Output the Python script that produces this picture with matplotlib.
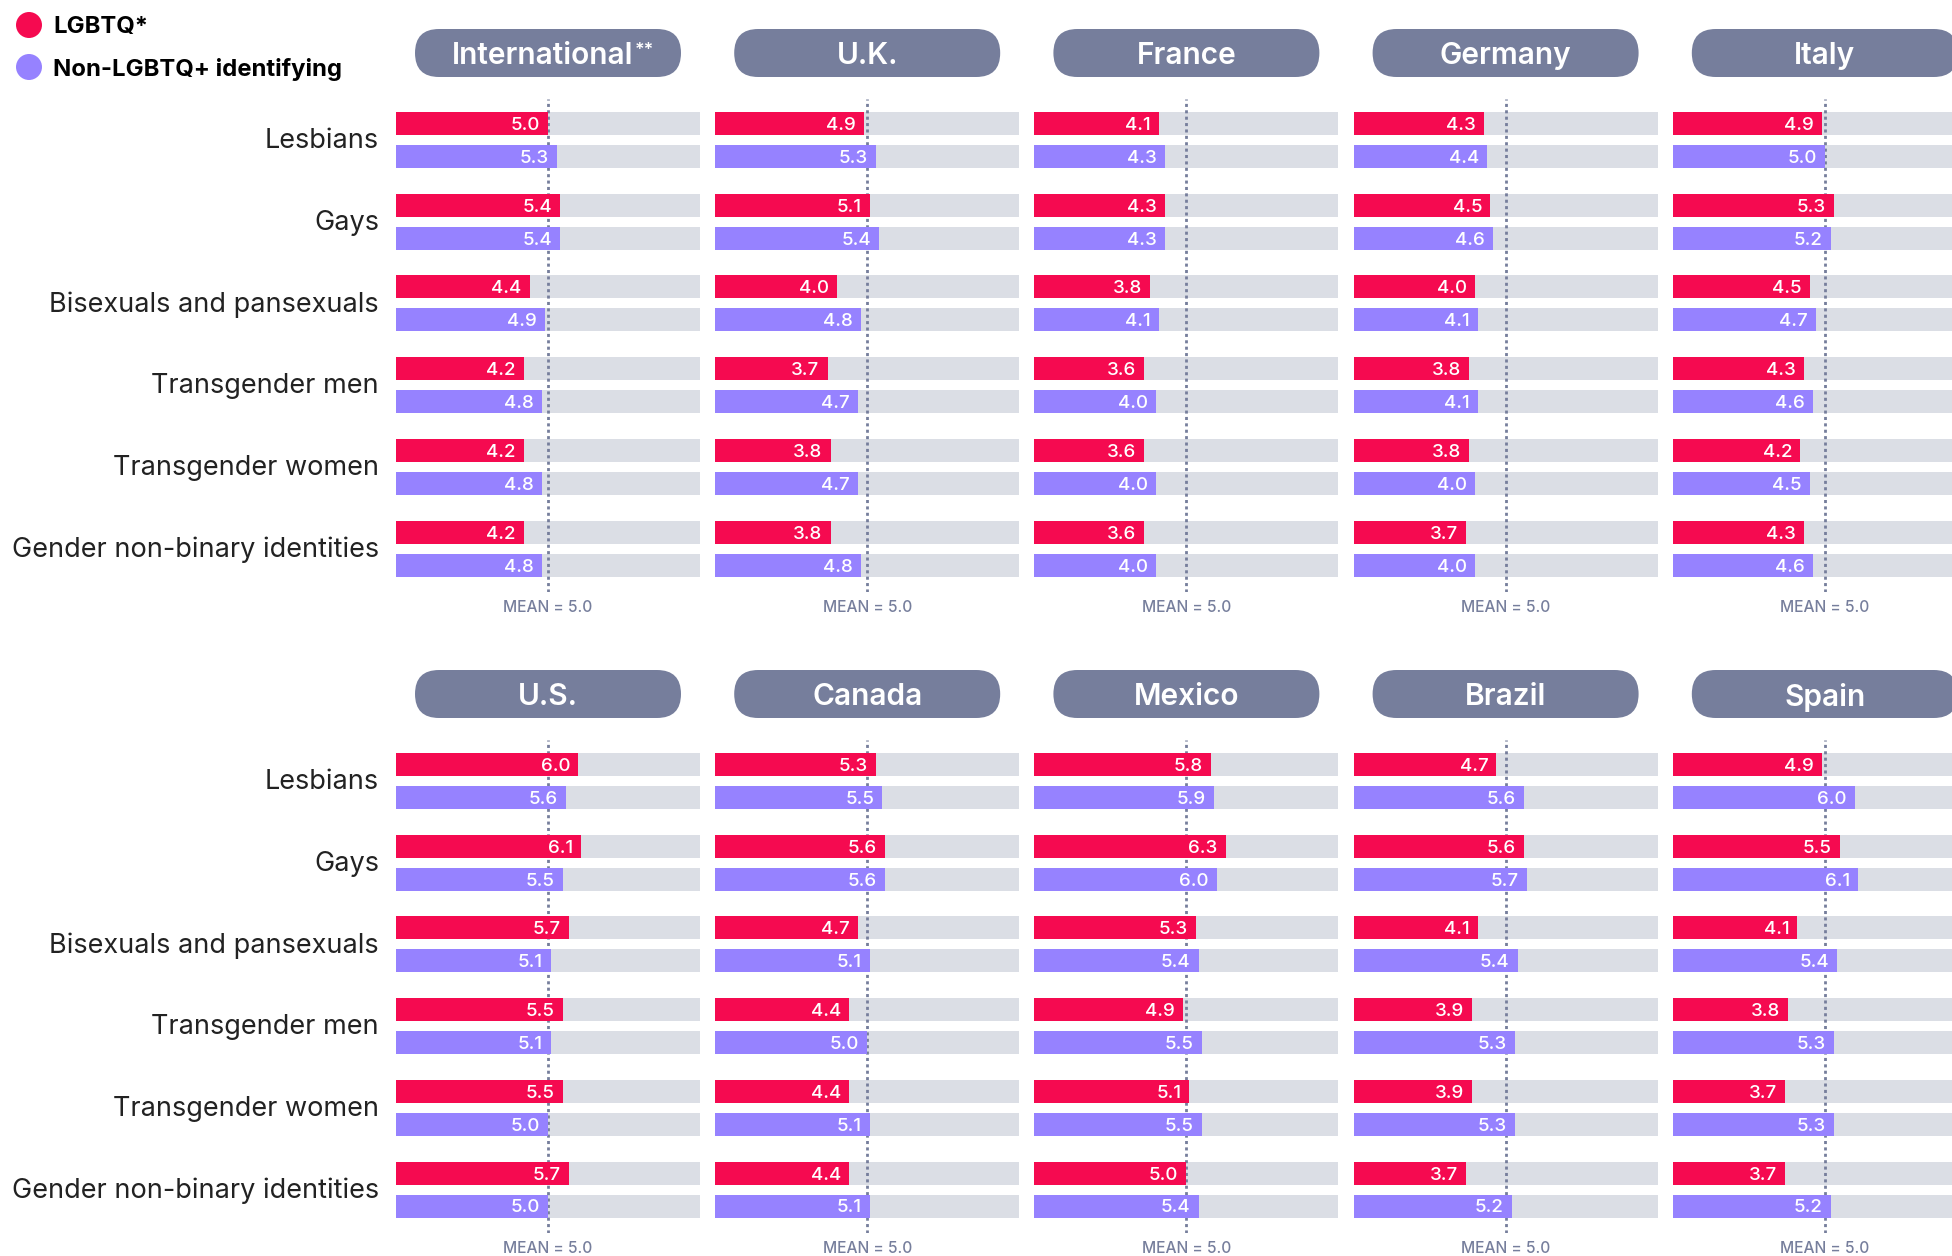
import numpy as np
import matplotlib
matplotlib.use("Agg")
import matplotlib.pyplot as plt
from matplotlib.patches import FancyBboxPatch, Circle
from matplotlib.text import Annotation

plt.rcParams['font.family'] = ['Inter', 'DejaVu Sans']

categories = ["Lesbians", "Gays", "Bisexuals and pansexuals", "Transgender men",
              "Transgender women", "Gender non-binary identities"]

top_regions = ["International", "U.K.", "France", "Germany", "Italy"]
bottom_regions = ["U.S.", "Canada", "Mexico", "Brazil", "Spain"]

# LGBTQ* scores per region (same order as categories)
lgbtq = {
    "International": [5.0, 5.4, 4.4, 4.2, 4.2, 4.2],
    "U.K.":          [4.9, 5.1, 4.0, 3.7, 3.8, 3.8],
    "France":        [4.1, 4.3, 3.8, 3.6, 3.6, 3.6],
    "Germany":       [4.3, 4.5, 4.0, 3.8, 3.8, 3.7],
    "Italy":         [4.9, 5.3, 4.5, 4.3, 4.2, 4.3],
    "U.S.":          [6.0, 6.1, 5.7, 5.5, 5.5, 5.7],
    "Canada":        [5.3, 5.6, 4.7, 4.4, 4.4, 4.4],
    "Mexico":        [5.8, 6.3, 5.3, 4.9, 5.1, 5.0],
    "Brazil":        [4.7, 5.6, 4.1, 3.9, 3.9, 3.7],
    "Spain":         [4.9, 5.5, 4.1, 3.8, 3.7, 3.7],
}

# Non-LGBTQ+ identifying scores
non_lgbtq = {
    "International": [5.3, 5.4, 4.9, 4.8, 4.8, 4.8],
    "U.K.":          [5.3, 5.4, 4.8, 4.7, 4.7, 4.8],
    "France":        [4.3, 4.3, 4.1, 4.0, 4.0, 4.0],
    "Germany":       [4.4, 4.6, 4.1, 4.1, 4.0, 4.0],
    "Italy":         [5.0, 5.2, 4.7, 4.6, 4.5, 4.6],
    "U.S.":          [5.6, 5.5, 5.1, 5.1, 5.0, 5.0],
    "Canada":        [5.5, 5.6, 5.1, 5.0, 5.1, 5.1],
    "Mexico":        [5.9, 6.0, 5.4, 5.5, 5.5, 5.4],
    "Brazil":        [5.6, 5.7, 5.4, 5.3, 5.3, 5.2],
    "Spain":         [6.0, 6.1, 5.4, 5.3, 5.3, 5.2],
}

MEAN = 5.0
SCALE_MAX = 10

RED = "#F50A50"
PURPLE = "#9682FF"
TRACK = "#DBDEE5"
SLATE = "#767E9C"

W, H = 1952, 1256
DPI = 100

# layout in pixels
PANEL_X0 = 396
PANEL_STEP = 319.2
PANEL_W = 304
GROUP_STEP = 81.7
BAR_H = 23
BAR_OFF = 16.5
ROW_SHIFT = 641
AX_TOP = 99
AX_BOT = 592
GROUP0 = 140
PILL_TOP = 29
PILL_W = 266
PILL_H = 48

fig = plt.figure(figsize=(W / DPI, H / DPI), dpi=DPI, facecolor="white")


def px_rect(x, top, w, h):
    return [x / W, 1 - (top + h) / H, w / W, h / H]


y_lo = (AX_TOP - GROUP0) / GROUP_STEP
y_hi = (AX_BOT - GROUP0) / GROUP_STEP
bh = BAR_H / GROUP_STEP
off = BAR_OFF / GROUP_STEP


def draw_panel(region, col, row):
    dy = row * ROW_SHIFT
    x0 = PANEL_X0 + col * PANEL_STEP
    ax = fig.add_axes(px_rect(x0, AX_TOP + dy, PANEL_W, AX_BOT - AX_TOP))
    ax.set_xlim(0, SCALE_MAX)
    ax.set_ylim(y_hi, y_lo)
    for s in ax.spines.values():
        s.set_visible(False)
    ax.set_xticks([])

    ypos = np.arange(len(categories))
    a = np.array(lgbtq[region])
    b = np.array(non_lgbtq[region])

    # background tracks
    ax.barh(ypos - off, SCALE_MAX, height=bh, color=TRACK, zorder=1)
    ax.barh(ypos + off, SCALE_MAX, height=bh, color=TRACK, zorder=1)
    # mean line
    ax.axvline(MEAN, color=SLATE, lw=2, linestyle=(0, (1.1, 1.2)), zorder=2)
    # bars
    ax.barh(ypos - off, a, height=bh, color=RED, zorder=3)
    ax.barh(ypos + off, b, height=bh, color=PURPLE, zorder=3)

    for y, v in zip(ypos, a):
        ax.text(v - 0.27, y - off, f"{v:.1f}", ha="right", va="center_baseline",
                color="white", fontsize=13.5, fontweight="medium", zorder=4)
    for y, v in zip(ypos, b):
        ax.text(v - 0.27, y + off, f"{v:.1f}", ha="right", va="center_baseline",
                color="white", fontsize=13.5, fontweight="medium", zorder=4)

    if col == 0:
        ax.set_yticks(ypos - 0.02)
        ax.set_yticklabels(categories, fontsize=19.5, color="#222222")
        ax.tick_params(axis="y", length=0, pad=12.2)
    else:
        ax.set_yticks([])

    ax.annotate("MEAN = 5.0", xy=(MEAN, 0), xycoords=("data", "axes fraction"),
                xytext=(0, -11), textcoords="offset points", ha="center",
                va="center", fontsize=11.2, color=SLATE, fontweight="medium")

    # header pill
    cx = x0 + PANEL_W * MEAN / SCALE_MAX
    ptop = PILL_TOP + dy
    pill = FancyBboxPatch(((cx - PILL_W / 2) / DPI, (H - ptop - PILL_H) / DPI),
                          PILL_W / DPI, PILL_H / DPI,
                          boxstyle="round,pad=0,rounding_size=0.24",
                          transform=fig.dpi_scale_trans, facecolor=SLATE,
                          edgecolor="none")
    fig.add_artist(pill)
    ty = 1 - (ptop + PILL_H / 2) / H
    if region == "International":
        t = fig.text((cx - 5) / W, ty, region, ha="center", va="center_baseline",
                     color="white", fontsize=21.5, fontweight="semibold", zorder=3)
        star = Annotation("**", xy=(1, 1), xycoords=t, xytext=(1, 0),
                          textcoords="offset points", ha="left", va="top",
                          color="white", fontsize=13, fontweight="semibold",
                          annotation_clip=False)
        star.set_zorder(3)
        fig.add_artist(star)
    else:
        fig.text(cx / W, ty, region, ha="center", va="center_baseline",
                 color="white", fontsize=21.5, fontweight="semibold", zorder=3)


for i, r in enumerate(top_regions):
    draw_panel(r, i, 0)
for i, r in enumerate(bottom_regions):
    draw_panel(r, i, 1)

# legend
for yy, col, lab in [(25, RED, "LGBTQ*"), (67, PURPLE, "Non-LGBTQ+ identifying")]:
    fig.add_artist(Circle((29 / DPI, (H - yy) / DPI), 13 / DPI,
                          transform=fig.dpi_scale_trans, facecolor=col,
                          edgecolor="none"))
    fig.text(53 / W, 1 - yy / H, lab, ha="left", va="center_baseline",
             fontsize=17.2, fontweight="bold", color="black")

fig.savefig("out.png", dpi=DPI, facecolor="white")
